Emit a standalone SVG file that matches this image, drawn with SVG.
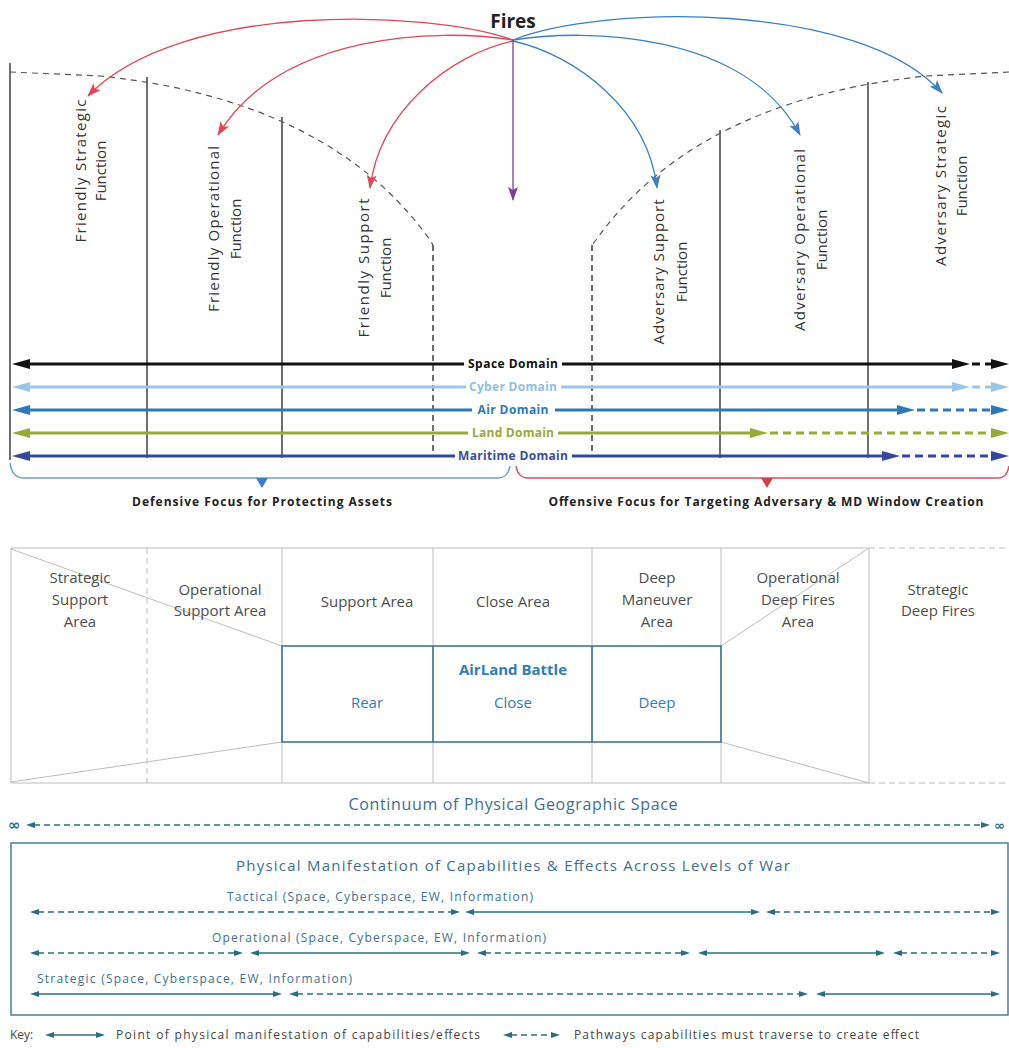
<svg xmlns="http://www.w3.org/2000/svg" width="1009" height="1048" viewBox="0 0 1009 1048">
<defs>
<style>
.lbl{font-family:"Open Sans","Liberation Sans",sans-serif;font-size:15px;fill:#333;}
.tbl{font-family:"Open Sans","Liberation Sans",sans-serif;font-size:15px;fill:#4d4d4d;text-anchor:middle;}
.blu{font-family:"Open Sans","Liberation Sans",sans-serif;font-size:15px;fill:#2f7db3;text-anchor:middle;}
.dom{font-family:"Open Sans","Liberation Sans",sans-serif;font-size:12px;font-weight:bold;text-anchor:middle;}
.foc{font-family:"Open Sans","Liberation Sans",sans-serif;font-size:12px;font-weight:bold;fill:#222;text-anchor:middle;}
.teal{font-family:"Open Sans","Liberation Sans",sans-serif;fill:#3d6f8e;}
.sep{stroke:#222;stroke-width:1.3;fill:none;}
.sepd{stroke:#222;stroke-width:1.3;fill:none;stroke-dasharray:6 4;}
.curve{stroke:#555;stroke-width:1.2;fill:none;stroke-dasharray:6 5;}
.grid{stroke:#bdbdbd;stroke-width:1;fill:none;}
.gridd{stroke:#bdbdbd;stroke-width:1;fill:none;stroke-dasharray:6 4;}
.tl{stroke:#2e6d80;stroke-width:1.5;fill:none;}
.tld{stroke:#2e6d80;stroke-width:1.5;fill:none;stroke-dasharray:6 4;}
.th{fill:#2e6d80;}
</style>
<marker id="mRed" viewBox="0 0 14 10" refX="13" refY="5" markerWidth="14" markerHeight="10" markerUnits="userSpaceOnUse" orient="auto"><path d="M0,0 L14,5 L0,10 L3,5 z" fill="#e04858"/></marker>
<marker id="mBlue" viewBox="0 0 14 10" refX="13" refY="5" markerWidth="14" markerHeight="10" markerUnits="userSpaceOnUse" orient="auto"><path d="M0,0 L14,5 L0,10 L3,5 z" fill="#3d7fc1"/></marker>
<marker id="mPur" viewBox="0 0 14 10" refX="13" refY="5" markerWidth="14" markerHeight="10" markerUnits="userSpaceOnUse" orient="auto"><path d="M0,0 L14,5 L0,10 L3,5 z" fill="#7b3f98"/></marker>
</defs>
<rect width="1009" height="1048" fill="#fff"/>

<g id="fires">
<text x="513" y="28" font-family="Open Sans, Liberation Sans, sans-serif" font-size="19" font-weight="bold" fill="#222" text-anchor="middle">Fires</text>
</g>

<g id="separators">
<line class="sep" x1="10" y1="63" x2="10" y2="460"/>
<line class="sep" x1="147" y1="77" x2="147" y2="458"/>
<line class="sep" x1="282" y1="117" x2="282" y2="458"/>
<line class="sepd" x1="433" y1="245" x2="433" y2="455"/>
<line class="sepd" x1="592" y1="245" x2="592" y2="455"/>
<line class="sep" x1="720" y1="130" x2="720" y2="458"/>
<line class="sep" x1="868" y1="82" x2="868" y2="458"/>
<path class="curve" d="M10,72 L100,76 Q330,100 430,240 L433,245"/>
<path class="curve" d="M1009,72 L926,76 Q696,100 596,240 L592,245"/>
</g>

<g id="friendly-strategic"><text class="lbl" transform="translate(86,171) rotate(-90)" text-anchor="middle"><tspan x="0" y="0" textLength="143">Friendly Strategic</tspan><tspan x="0" y="20">Function</tspan></text></g>
<g id="friendly-operational"><text class="lbl" transform="translate(219,229) rotate(-90)" text-anchor="middle"><tspan x="0" y="0" textLength="166">Friendly Operational</tspan><tspan x="0" y="22">Function</tspan></text></g>
<g id="friendly-support"><text class="lbl" transform="translate(369,268) rotate(-90)" text-anchor="middle"><tspan x="0" y="0" textLength="139">Friendly Support</tspan><tspan x="0" y="22">Function</tspan></text></g>
<g id="adversary-support"><text class="lbl" transform="translate(664,272) rotate(-90)" text-anchor="middle"><tspan x="0" y="0" textLength="145">Adversary Support</tspan><tspan x="0" y="23">Function</tspan></text></g>
<g id="adversary-operational"><text class="lbl" transform="translate(805,240) rotate(-90)" text-anchor="middle"><tspan x="0" y="0" textLength="182">Adversary Operational</tspan><tspan x="0" y="22">Function</tspan></text></g>
<g id="adversary-strategic"><text class="lbl" transform="translate(946,186) rotate(-90)" text-anchor="middle"><tspan x="0" y="0" textLength="160">Adversary Strategic</tspan><tspan x="0" y="21">Function</tspan></text></g>

<g id="fires-connectors">
<path d="M513,40 C430,10 180,0 88,96" stroke="#e04858" stroke-width="1.3" fill="none" marker-end="url(#mRed)"/>
<path d="M513,40 C440,28 280,32 218,135" stroke="#e04858" stroke-width="1.3" fill="none" marker-end="url(#mRed)"/>
<path d="M513,41 C450,55 380,110 370,188" stroke="#e04858" stroke-width="1.3" fill="none" marker-end="url(#mRed)"/>
<path d="M513,41 C576,55 648,110 657,188" stroke="#3d7fc1" stroke-width="1.3" fill="none" marker-end="url(#mBlue)"/>
<path d="M513,40 C586,28 746,32 800,135" stroke="#3d7fc1" stroke-width="1.3" fill="none" marker-end="url(#mBlue)"/>
<path d="M513,40 C600,5 860,0 942,93" stroke="#3d7fc1" stroke-width="1.3" fill="none" marker-end="url(#mBlue)"/>
<path d="M513,40 L513,200" stroke="#7b3f98" stroke-width="1.3" fill="none" marker-end="url(#mPur)"/>
</g>

<g id="domains">
<g stroke="#111" stroke-width="3" fill="none">
<line x1="464" y1="364" x2="26" y2="364"/>
<line x1="562" y1="364" x2="956" y2="364"/>
<line x1="972" y1="364" x2="995" y2="364" stroke-dasharray="8 5"/>
</g>
<polygon points="12,364 30,359 30,369" fill="#111"/>
<polygon points="970,364 952,359 952,369" fill="#111"/>
<polygon points="1009,364 991,359 991,369" fill="#111"/>
<g stroke="#9cc6e6" stroke-width="3" fill="none">
<line x1="466" y1="387" x2="26" y2="387"/>
<line x1="561" y1="387" x2="956" y2="387"/>
<line x1="972" y1="387" x2="995" y2="387" stroke-dasharray="8 5"/>
</g>
<polygon points="12,387 30,382 30,392" fill="#9cc6e6"/>
<polygon points="970,387 952,382 952,392" fill="#9cc6e6"/>
<polygon points="1009,387 991,382 991,392" fill="#9cc6e6"/>
<g stroke="#2f78b6" stroke-width="3" fill="none">
<line x1="472" y1="410" x2="26" y2="410"/>
<line x1="555" y1="410" x2="901" y2="410"/>
<line x1="917" y1="410" x2="995" y2="410" stroke-dasharray="8 5"/>
</g>
<polygon points="12,410 30,405 30,415" fill="#2f78b6"/>
<polygon points="915,410 897,405 897,415" fill="#2f78b6"/>
<polygon points="1009,410 991,405 991,415" fill="#2f78b6"/>
<g stroke="#9aaa3a" stroke-width="3" fill="none">
<line x1="468" y1="433" x2="26" y2="433"/>
<line x1="558" y1="433" x2="754" y2="433"/>
<line x1="770" y1="433" x2="995" y2="433" stroke-dasharray="8 5"/>
</g>
<polygon points="12,433 30,428 30,438" fill="#9aaa3a"/>
<polygon points="768,433 750,428 750,438" fill="#9aaa3a"/>
<polygon points="1009,433 991,428 991,438" fill="#9aaa3a"/>
<g stroke="#34489a" stroke-width="3" fill="none">
<line x1="455" y1="456" x2="26" y2="456"/>
<line x1="572" y1="456" x2="886" y2="456"/>
<line x1="902" y1="456" x2="995" y2="456" stroke-dasharray="8 5"/>
</g>
<polygon points="12,456 30,451 30,461" fill="#34489a"/>
<polygon points="900,456 882,451 882,461" fill="#34489a"/>
<polygon points="1009,456 991,451 991,461" fill="#34489a"/>
<text class="dom" x="513" y="368" fill="#111" textLength="90">Space Domain</text>
<text class="dom" x="513" y="391" fill="#8fbfe3" textLength="88">Cyber Domain</text>
<text class="dom" x="513" y="414" fill="#2f78b6" textLength="71">Air Domain</text>
<text class="dom" x="513" y="437" fill="#9aa83a" textLength="82">Land Domain</text>
<text class="dom" x="513" y="460" fill="#3a4d9c" textLength="110">Maritime Domain</text>
</g>

<g id="defensive-focus">
<path d="M10,463 Q12,478 24,478 L498,478 Q508,478 510,466" stroke="#6aa0d0" stroke-width="1.5" fill="none"/>
<polygon points="256,478 268,478 262,488" fill="#3f7fbf"/>
<text class="foc" x="262" y="506" textLength="260">Defensive Focus for Protecting Assets</text>
</g>
<g id="offensive-focus">
<path d="M516,466 Q518,478 528,478 L998,478 Q1007,478 1009,466" stroke="#d9505c" stroke-width="1.5" fill="none"/>
<polygon points="761,478 773,478 767,488" fill="#d0404f"/>
<text class="foc" x="766" y="506" textLength="435">Offensive Focus for Targeting Adversary &amp; MD Window Creation</text>
</g>

<g id="area-grid">
<path class="grid" d="M869,548 L11,548 L11,783 L869,783"/>
<path class="gridd" d="M869,548 L1009,548 M869,783 L1009,783"/>
<line class="gridd" x1="147" y1="548" x2="147" y2="783"/>
<line class="grid" x1="282" y1="548" x2="282" y2="783"/>
<line class="grid" x1="433" y1="548" x2="433" y2="783"/>
<line class="grid" x1="592" y1="548" x2="592" y2="783"/>
<line class="grid" x1="721" y1="548" x2="721" y2="783"/>
<line class="grid" x1="869" y1="548" x2="869" y2="783"/>
<line class="grid" x1="11" y1="549" x2="282" y2="646"/>
<line class="grid" x1="11" y1="782" x2="282" y2="742"/>
<line class="grid" x1="721" y1="646" x2="869" y2="548"/>
<line class="grid" x1="721" y1="742" x2="869" y2="783"/>
</g>
<g id="strategic-support-area"><text class="tbl"><tspan x="80" y="583">Strategic</tspan><tspan x="80" y="605">Support</tspan><tspan x="80" y="627">Area</tspan></text></g>
<g id="operational-support-area"><text class="tbl"><tspan x="220" y="595">Operational</tspan><tspan x="220" y="616">Support Area</tspan></text></g>
<g id="support-area"><text class="tbl" x="367" y="607">Support Area</text></g>
<g id="close-area"><text class="tbl" x="513" y="607">Close Area</text></g>
<g id="deep-maneuver-area"><text class="tbl"><tspan x="657" y="583">Deep</tspan><tspan x="657" y="605">Maneuver</tspan><tspan x="657" y="627">Area</tspan></text></g>
<g id="operational-deep-fires-area"><text class="tbl"><tspan x="798" y="583">Operational</tspan><tspan x="798" y="605">Deep Fires</tspan><tspan x="798" y="627">Area</tspan></text></g>
<g id="strategic-deep-fires"><text class="tbl"><tspan x="938" y="595">Strategic</tspan><tspan x="938" y="616">Deep Fires</tspan></text></g>

<g id="airland-battle">
<rect x="282" y="646" width="439" height="96" fill="none" stroke="#2e6f99" stroke-width="1.5"/>
<line x1="433" y1="646" x2="433" y2="742" stroke="#2e6f99" stroke-width="1.5"/>
<line x1="592" y1="646" x2="592" y2="742" stroke="#2e6f99" stroke-width="1.5"/>
<text class="blu" x="513" y="675" font-weight="bold" fill="#2c78b0">AirLand Battle</text>
<text class="blu" x="367" y="708">Rear</text>
<text class="blu" x="513" y="708">Close</text>
<text class="blu" x="657" y="708">Deep</text>
</g>

<g id="continuum">
<text class="teal" x="513" y="810" font-size="16" text-anchor="middle" textLength="329">Continuum of Physical Geographic Space</text>
<text x="8" y="830" font-family="DejaVu Sans, sans-serif" font-size="15" font-weight="bold" fill="#2e6d80">∞</text>
<text x="994" y="830" font-family="DejaVu Sans, sans-serif" font-size="13" font-weight="bold" fill="#2e6d80">∞</text>
<line class="tld" x1="34" y1="825" x2="982" y2="825" stroke-width="1.3"/>
<polygon class="th" points="26,825 35,822 35,828"/>
<polygon class="th" points="990,825 981,822 981,828"/>
</g>

<g id="levels-of-war">
<rect x="11" y="843" width="997" height="172" fill="none" stroke="#4a7f98" stroke-width="1.5"/>
<text class="teal" x="513" y="871" font-size="15" text-anchor="middle" textLength="554">Physical Manifestation of Capabilities &amp; Effects Across Levels of War</text>
<text class="teal" x="380" y="901" font-size="12" text-anchor="middle" textLength="306">Tactical (Space, Cyberspace, EW, Information)</text>
<text class="teal" x="379" y="942" font-size="12" text-anchor="middle" textLength="334">Operational (Space, Cyberspace, EW, Information)</text>
<text class="teal" x="37" y="983" font-size="12" textLength="315">Strategic (Space, Cyberspace, EW, Information)</text>
</g>

<g id="level-connectors">
<line class="tld" x1="38" y1="912" x2="452" y2="912"/>
<polygon class="th" points="30,912 39,909 39,915"/><polygon class="th" points="460,912 451,909 451,915"/>
<line class="tl" x1="473" y1="912" x2="752" y2="912"/>
<polygon class="th" points="465,912 474,909 474,915"/><polygon class="th" points="760,912 751,909 751,915"/>
<line class="tld" x1="774" y1="912" x2="992" y2="912"/>
<polygon class="th" points="766,912 775,909 775,915"/><polygon class="th" points="1000,912 991,909 991,915"/>
<line class="tld" x1="38" y1="953" x2="235" y2="953"/>
<polygon class="th" points="30,953 39,950 39,956"/><polygon class="th" points="243,953 234,950 234,956"/>
<line class="tl" x1="258" y1="953" x2="462" y2="953"/>
<polygon class="th" points="250,953 259,950 259,956"/><polygon class="th" points="470,953 461,950 461,956"/>
<line class="tld" x1="485" y1="953" x2="682" y2="953"/>
<polygon class="th" points="477,953 486,950 486,956"/><polygon class="th" points="690,953 681,950 681,956"/>
<line class="tl" x1="706" y1="953" x2="877" y2="953"/>
<polygon class="th" points="698,953 707,950 707,956"/><polygon class="th" points="885,953 876,950 876,956"/>
<line class="tld" x1="901" y1="953" x2="992" y2="953"/>
<polygon class="th" points="893,953 902,950 902,956"/><polygon class="th" points="1000,953 991,950 991,956"/>
<line class="tl" x1="38" y1="994" x2="274" y2="994"/>
<polygon class="th" points="30,994 39,991 39,997"/><polygon class="th" points="282,994 273,991 273,997"/>
<line class="tld" x1="297" y1="994" x2="800" y2="994"/>
<polygon class="th" points="289,994 298,991 298,997"/><polygon class="th" points="808,994 799,991 799,997"/>
<line class="tl" x1="824" y1="994" x2="992" y2="994"/>
<polygon class="th" points="816,994 825,991 825,997"/><polygon class="th" points="1000,994 991,991 991,997"/>
</g>

<g id="key">
<text x="10" y="1039" font-family="Open Sans, Liberation Sans, sans-serif" font-size="12" fill="#444">Key:</text>
<line class="tl" x1="53" y1="1035" x2="97" y2="1035"/>
<polygon class="th" points="45,1035 54,1032 54,1038"/><polygon class="th" points="105,1035 96,1032 96,1038"/>
<text x="116" y="1039" font-family="Open Sans, Liberation Sans, sans-serif" font-size="12" fill="#444" textLength="364">Point of physical manifestation of capabilities/effects</text>
<line class="tld" x1="511" y1="1035" x2="552" y2="1035"/>
<polygon class="th" points="503,1035 512,1032 512,1038"/><polygon class="th" points="560,1035 551,1032 551,1038"/>
<text x="574" y="1039" font-family="Open Sans, Liberation Sans, sans-serif" font-size="12" fill="#444" textLength="345">Pathways capabilities must traverse to create effect</text>
</g>
</svg>
